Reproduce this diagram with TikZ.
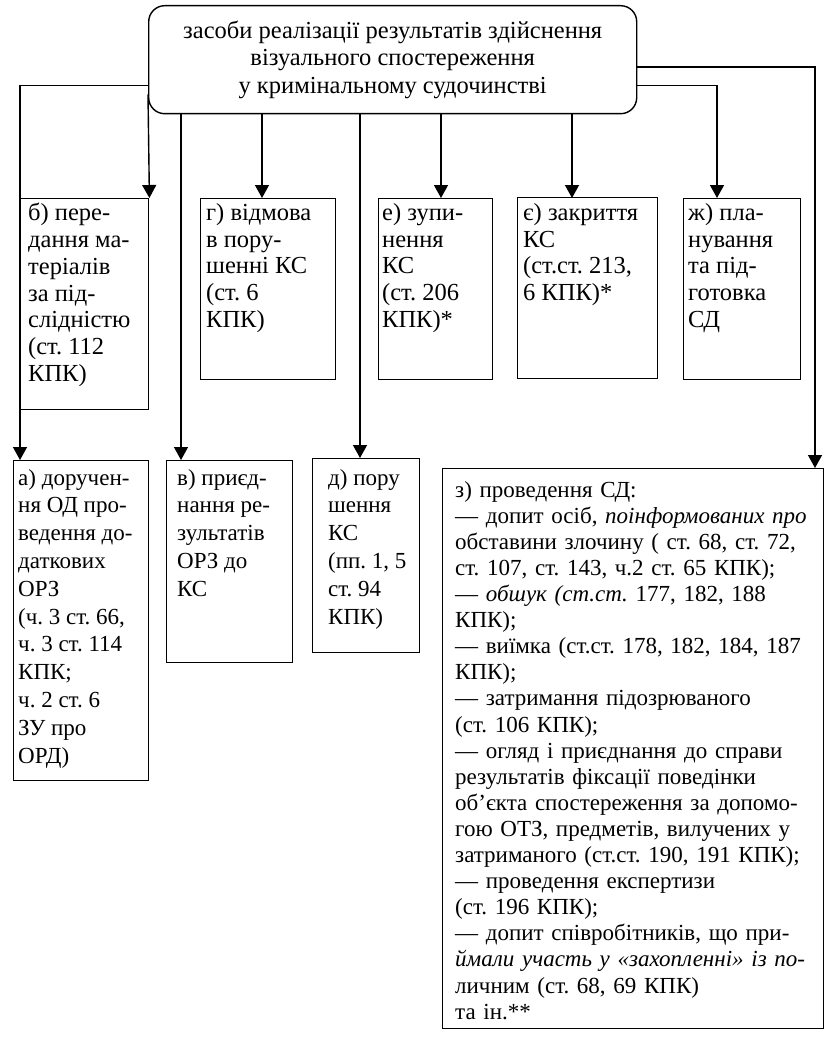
\documentclass[tikz,border=0pt]{standalone}
\usepackage{fontspec}
\setmainfont{Liberation Serif}
\usetikzlibrary{arrows.meta,calc}
\newcommand\jline[1]{\makebox[\linewidth][s]{#1}}
\frenchspacing
\begin{document}
\frenchspacing
\begin{tikzpicture}[x=1pt,y=-1pt,
  box/.style={draw, line width=1.4pt, inner sep=0pt, anchor=north west},
  txt/.style={font=\fontsize{24.5}{26.8}\selectfont\frenchspacing, align=left, inner sep=0pt, anchor=north west},
  txtb/.style={font=\fontsize{23}{27.8}\selectfont\frenchspacing, align=left, inner sep=0pt, anchor=north west},
  toptxt/.style={font=\fontsize{24.5}{27.5}\selectfont\frenchspacing, align=center},
  bigtxt/.style={font=\fontsize{23}{26.1}\selectfont\frenchspacing, align=left, inner sep=0pt, anchor=north west, text width=364pt},
  arr/.style={line width=1.4pt, -{Triangle[length=13pt,width=14pt]}}]
\path[use as bounding box, fill=white] (0,0) rectangle (824,1038);

% top box
\node[box, rounded corners=16pt, minimum width=488pt, minimum height=108pt, toptxt] (top) at (148,5)
  {засоби реалізації результатів здійснення\\візуального спостереження\\у кримінальному судочинстві};

% row 1
\node[box, minimum width=128pt, minimum height=211pt] (b1) at (20,198) {};
\node[box, minimum width=135pt, minimum height=181pt] (g1) at (200,198) {};
\node[box, minimum width=114pt, minimum height=181pt] (e1) at (378,198) {};
\node[box, minimum width=140pt, minimum height=181pt] (ye1) at (517,197) {};
\node[box, minimum width=117pt, minimum height=181pt] (zh1) at (683,198) {};

\node[txt] (b1t) at ($(b1.north west)+(8,5)$) {б) пере-\\дання ма-\\теріалів\\за під-\\слідністю\\(ст. 112\\КПК)};
\node[txt] (g1t) at ($(g1.north west)+(6,5)$) {г) відмова\\в пору-\\шенні КС\\(ст. 6\\КПК)};
\node[txt] (e1t) at ($(e1.north west)+(4,5)$) {е) зупи-\\нення\\КС\\(ст. 206\\КПК)*};
\node[txt] (ye1t) at ($(ye1.north west)+(6,6)$) {є) закриття\\КС\\(ст.ст. 213,\\6 КПК)*};
\node[txt] (zh1t) at ($(zh1.north west)+(5,5)$) {ж) пла-\\нування\\та під-\\готовка\\СД};

% row 2
\node[box, minimum width=135pt, minimum height=320pt] (a2) at (13,460) {};
\node[box, minimum width=126pt, minimum height=202pt] (v2) at (166,460) {};
\node[box, minimum width=107pt, minimum height=194pt] (d2) at (312,458) {};
\node[box, minimum width=381pt, minimum height=560pt] (z2) at (442,468) {};

\node[txtb] (a2t) at ($(a2.north west)+(5,9)$) {а) доручен-\\ня ОД про-\\ведення до-\\даткових\\ОРЗ\\(ч. 3 ст. 66,\\ч. 3 ст. 114\\КПК;\\ч. 2 ст. 6\\ЗУ про\\ОРД)};
\node[txtb] (v2t) at ($(v2.north west)+(11,9)$) {в) приєд-\\нання ре-\\зультатів\\ОРЗ до\\КС};
\node[txtb] (d2t) at ($(d2.north west)+(16,11)$) {д) пору\\шення\\КС\\(пп. 1, 5\\ст. 94\\КПК)};
\node[bigtxt] (z2t) at ($(z2.north west)+(13,13)$) {з) проведення СД:\\
\jline{— допит осіб, \textit{поінформованих про}}\\
\jline{обставини злочину ( ст. 68, ст. 72,}\\
ст. 107, ст. 143, ч.2 ст. 65 КПК);\\
\jline{— \textit{обшук (ст.ст.} 177, 182, 188}\\
КПК);\\
\jline{— виїмка (ст.ст. 178, 182, 184, 187}\\
КПК);\\
— затримання підозрюваного\\
(ст. 106 КПК);\\
\jline{— огляд і приєднання до справи}\\
\jline{результатів фіксації поведінки}\\
\jline{об’єкта спостереження за допомо-}\\
\jline{гою ОТЗ, предметів, вилучених у}\\
затриманого (ст.ст. 190, 191 КПК);\\
— проведення експертизи\\
(ст. 196 КПК);\\
\jline{— допит співробітників, що при-}\\
\jline{\textit{ймали участь у «захопленні» із по-}}\\
личним (ст. 68, 69 КПК)\\
та ін.**};

% connector end points
\coordinate (bin) at (b1.north east);
\coordinate (gin) at ($(g1.north west)+(62,0)$);
\coordinate (ein) at ($(e1.north west)+(63,0)$);
\coordinate (yein) at ($(ye1.north west)+(55,1)$);
\coordinate (zhin) at ($(zh1.north west)+(34,0)$);
\coordinate (ain) at ($(a2.north west)+(7,0)$);
\coordinate (vin) at ($(v2.north west)+(15,0)$);
\coordinate (din) at ($(d2.north west)+(48,0)$);
\coordinate (zin) at ($(z2.north west)+(373,0)$);

% connectors
\draw[arr] ($(top.south west)+(0,-29)$) -| (ain);
\draw[arr] ($(top.south west)+(0,-20)$) -- (bin);
\draw[arr] (top.south -| vin) -- (vin);
\draw[arr] (top.south -| gin) -- (gin);
\draw[arr] (top.south -| din) -- (din);
\draw[arr] (top.south -| ein) -- (ein);
\draw[arr] (top.south -| yein) -- (yein);
\draw[arr] ($(top.south east)+(0,-29)$) -| (zhin);
\draw[arr] ($(top.north east)+(0,62)$) -| (zin);
\end{tikzpicture}
\end{document}
